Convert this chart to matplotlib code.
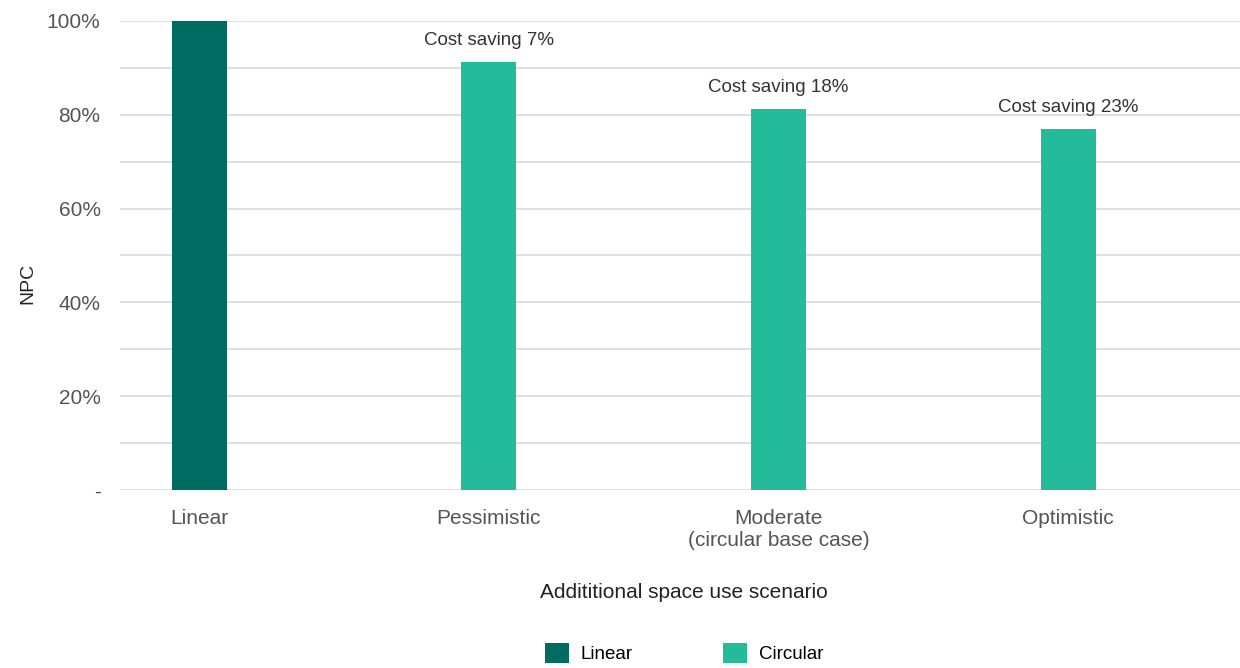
import matplotlib
matplotlib.use("Agg")
import matplotlib.pyplot as plt
from matplotlib.patches import Patch
import numpy as np

plt.rcParams['font.family'] = ['Liberation Sans', 'DejaVu Sans']

categories = ["Linear", "Pessimistic", "Moderate\n(circular base case)", "Optimistic"]
npc_values = [100.0, 91.3, 81.3, 77.0]
series = ["Linear", "Circular", "Circular", "Circular"]
annotations = [None, "Cost saving 7%", "Cost saving 18%", "Cost saving 23%"]
series_colors = {"Linear": "#006b61", "Circular": "#24bb9b"}
ytick_vals = [0, 20, 40, 60, 80, 100]
ytick_labels = ["-", "20%", "40%", "60%", "80%", "100%"]

fig = plt.figure(figsize=(12.4, 6.68), dpi=100)
ax = fig.add_axes([120/1240, 1 - 490/668, 1 - 120/1240, (490 - 21)/668])

x = np.arange(len(categories))
colors = [series_colors[s] for s in series]
bars = ax.bar(x, npc_values, width=0.19, color=colors, zorder=3)

for b, txt in zip(bars, annotations):
    if txt:
        ax.annotate(txt, (b.get_x() + b.get_width()/2, b.get_height()),
                    xytext=(0, 9), textcoords="offset points",
                    ha="center", va="bottom", fontsize=13.5, color="#333333")

ax.set_xlim(-0.273, 3.593)
ax.set_ylim(0, 100)
ax.set_yticks(np.arange(0, 101, 10), minor=True)
ax.set_yticks(ytick_vals)
ax.set_yticklabels(ytick_labels, fontsize=15, color="#555555")
ax.grid(axis="y", which="both", color="#d9d9d9", linewidth=1.2, zorder=0)
ax.tick_params(axis="y", which="both", length=0, pad=14)
ax.set_xticks(x)
ax.set_xticklabels(categories, fontsize=15, color="#555555", linespacing=1.2, va="top")
ax.tick_params(axis="x", length=0, pad=14)
for sp in ax.spines.values():
    sp.set_visible(False)

fig.text(28/1240, 1 - 283/668, "NPC", rotation=90, ha="center", va="center",
         fontsize=14, color="#222222")
fig.text(684/1240, 1 - 593/668, "Addititional space use scenario", ha="center",
         va="center", fontsize=15, color="#222222")

handles = [Patch(facecolor=series_colors["Linear"], label="Linear"),
           Patch(facecolor=series_colors["Circular"], label="Circular")]
fig.legend(handles=handles, loc="center", bbox_to_anchor=(684/1240, 1 - 653/668),
           ncol=2, frameon=False, fontsize=13.5, handlelength=1.28, handleheight=1.28,
           handletextpad=0.64, columnspacing=4.8, borderpad=0, borderaxespad=0)

fig.savefig("out.png", dpi=100)
